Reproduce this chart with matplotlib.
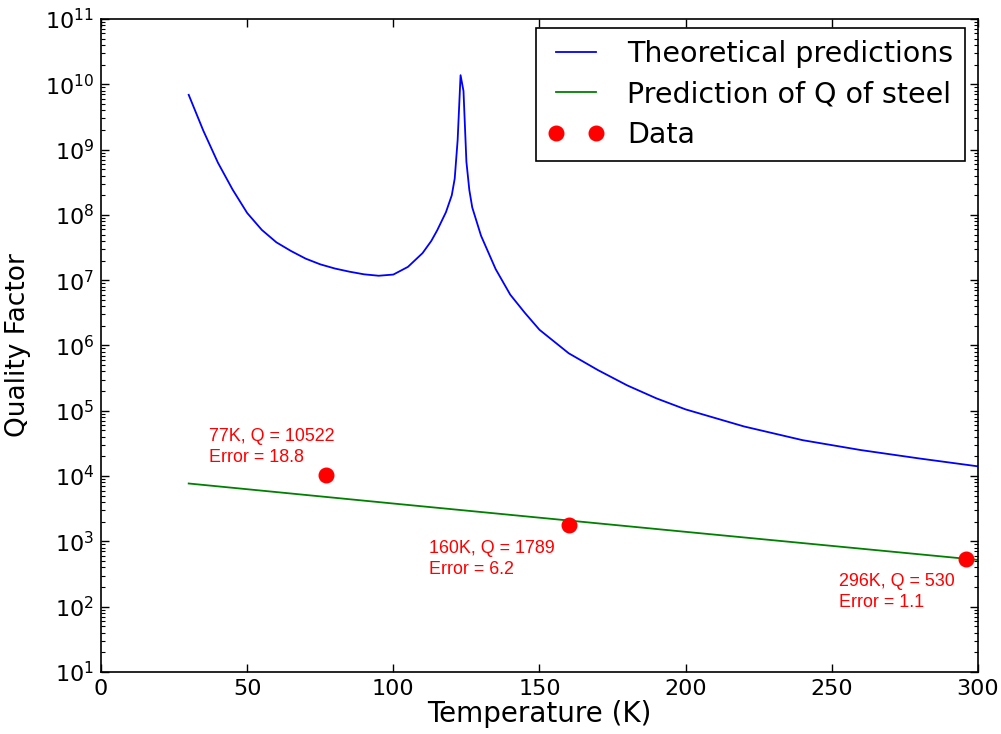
import numpy as np
import matplotlib
matplotlib.use('Agg')
import matplotlib.pyplot as plt
from matplotlib.ticker import LogLocator, MultipleLocator, NullFormatter

# theoretical Q(T) curve
temp_theory = [30, 35, 40, 45, 50, 55, 60, 65, 70, 75, 80, 85, 90, 95, 100, 105,
               110, 113, 115, 118, 120, 121, 122, 123, 124, 125, 126, 127, 130,
               135, 140, 145, 150, 160, 170, 180, 190, 200, 220, 240, 260, 280,
               300]
q_theory = [6.9e9, 1.95e9, 6.3e8, 2.45e8, 1.07e8, 5.9e7, 3.8e7, 2.8e7, 2.14e7,
            1.75e7, 1.51e7, 1.35e7, 1.23e7, 1.17e7, 1.22e7, 1.6e7, 2.6e7, 4.0e7,
            5.8e7, 1.1e8, 2.0e8, 3.6e8, 1.4e9, 1.38e10, 7.9e9, 6.5e8, 2.4e8,
            1.3e8, 4.8e7, 1.48e7, 6.0e6, 3.16e6, 1.74e6, 7.6e5, 4.2e5, 2.45e5,
            1.55e5, 1.05e5, 5.75e4, 3.55e4, 2.5e4, 1.86e4, 1.41e4]

# prediction for steel
temp_steel = [30, 100, 200, 300]
q_steel = [7700, 3800, 1400, 520]

# measured data
temp_data = [77, 160, 296]
q_data = [10522, 1789, 530]
err_data = [18.8, 6.2, 1.1]

plt.rcParams['mathtext.fontset'] = 'dejavusans'
plt.rcParams['font.family'] = 'DejaVu Sans'

fig = plt.figure(figsize=(10.01, 7.34), dpi=100, facecolor='white')
ax = fig.add_axes([0.1009, 0.0845, 0.8761, 0.8896])

ax.plot(temp_theory, q_theory, color='b', lw=1.3, label='Theoretical predictions')
ax.plot(temp_steel, q_steel, color='g', lw=1.3, label='Prediction of Q of steel')
ax.plot(temp_data, q_data, 'o', color='r', mec='r', ms=10.5, label='Data')

# labels next to the points
ann_pos = [(37, 5.5e4), (112.2, 1.05e3), (252.5, 328)]
for (tx, ty), t, q, e in zip(ann_pos, temp_data, q_data, err_data):
    ax.text(tx, ty, '%dK, Q = %d\nError = %s' % (t, q, e), color='r',
            fontsize=12.9, family='Liberation Sans', va='top', ha='left',
            linespacing=1.3)

ax.set_yscale('log')
ax.set_xlim(0, 300)
ax.set_ylim(1e1, 1e11)
ax.xaxis.set_major_locator(MultipleLocator(50))
ax.yaxis.set_major_locator(LogLocator(base=10, numticks=20))
ax.yaxis.set_minor_locator(LogLocator(base=10, subs=np.arange(2, 10), numticks=20))
ax.yaxis.set_minor_formatter(NullFormatter())

ax.tick_params(which='both', direction='in', top=True, right=True)
ax.tick_params(which='major', length=6, width=1)
ax.tick_params(which='minor', length=3, width=0.8)
ax.tick_params(axis='x', labelsize=16, pad=5)
ax.tick_params(axis='y', labelsize=16, pad=5)
for sp in ax.spines.values():
    sp.set_linewidth(1.2)

ax.set_xlabel('Temperature (K)', fontsize=20, labelpad=0.5)
ax.set_ylabel('Quality Factor', fontsize=19, labelpad=10)

leg = ax.legend(loc='upper right', bbox_to_anchor=(0.985, 0.986), numpoints=2,
                fontsize=20.5, fancybox=False, framealpha=1, edgecolor='black',
                labelspacing=0.45, handlelength=2.0, handletextpad=0.8,
                borderpad=0.4, borderaxespad=0)
leg.get_frame().set_linewidth(1.2)

fig.savefig('out.png', dpi=100, facecolor='white')
